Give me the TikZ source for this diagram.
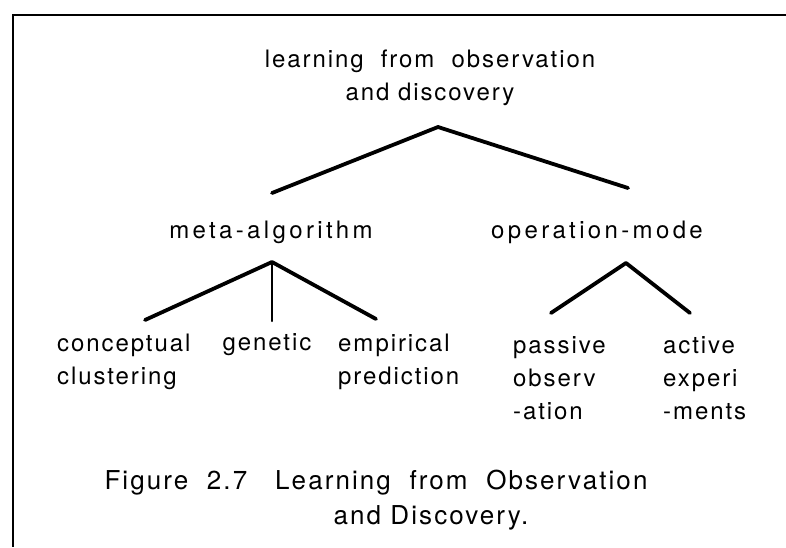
\documentclass[tikz,border=0pt]{standalone}
\usepackage{fontspec}
\setmainfont{TeX Gyre Heros}[LetterSpace=8]
\begin{document}
\begin{tikzpicture}[x=1pt,y=-1pt,
  lbl/.style={inner sep=0pt, font=\fontsize{24}{33}\selectfont},
  midlbl/.style={lbl, font=\fontsize{24}{33}\selectfont\addfontfeature{LetterSpace=14}},
  caption/.style={inner sep=0pt, font=\fontsize{26}{35}\selectfont},
  leaf/.style={lbl, align=left, anchor=west},
  branch/.style={line width=3.8pt, line cap=round, line join=round},
  stem/.style={line width=2.3pt, line cap=round},
  frame/.style={line width=2.8pt}]
\useasboundingbox (0,0) rectangle (786,547);

% open frame: top and left edges only
\coordinate (frameTL) at (13,15);
\coordinate (frameTR) at (786,15);
\coordinate (frameBL) at (13,547);
\draw[frame] (frameTR) -- (frameTL) -- (frameBL);

% labels
\node[lbl, align=center] (root) at (430,78) {learning\ \ from\ \ observation\\and discovery};
\node[midlbl] (meta) at (271,232) {meta-algorithm};
\node[midlbl] (mode) at (597,232) {operation-mode};
\node[leaf] (cc)  at (57,362)  {conceptual\\clustering};
\node[lbl]  (gen) at (267,345) {genetic};
\node[leaf] (emp) at (338,362) {empirical\\prediction};
\node[leaf] (pas) at (513,378) {passive\\observ\\-ation};
\node[leaf] (act) at (663,378) {active\\experi\\-ments};
\node[caption] (capA) at (376,483) {Figure\ \ 2.7\ \ \ Learning\ \ from\ \ Observation};
\node[caption] (capB) at (431,518) {and Discovery.};

% branch points
\coordinate (rootJ) at (438,127);
\coordinate (metaUp) at (272,193);
\coordinate (modeUp) at (628,188);
\coordinate (metaJ) at (272,262);
\coordinate (ccUp) at (145,320);
\coordinate (genUp) at (272,321);
\coordinate (empUp) at (376,319);
\coordinate (modeJ) at (626,263);
\coordinate (pasUp) at (551,313);
\coordinate (actUp) at (690,313);

\draw[branch] (metaUp) -- (rootJ) -- (modeUp);
\draw[branch] (ccUp) -- (metaJ) -- (empUp);
\draw[stem] (metaJ) -- (genUp);
\draw[branch] (pasUp) -- (modeJ) -- (actUp);
\end{tikzpicture}
\end{document}
